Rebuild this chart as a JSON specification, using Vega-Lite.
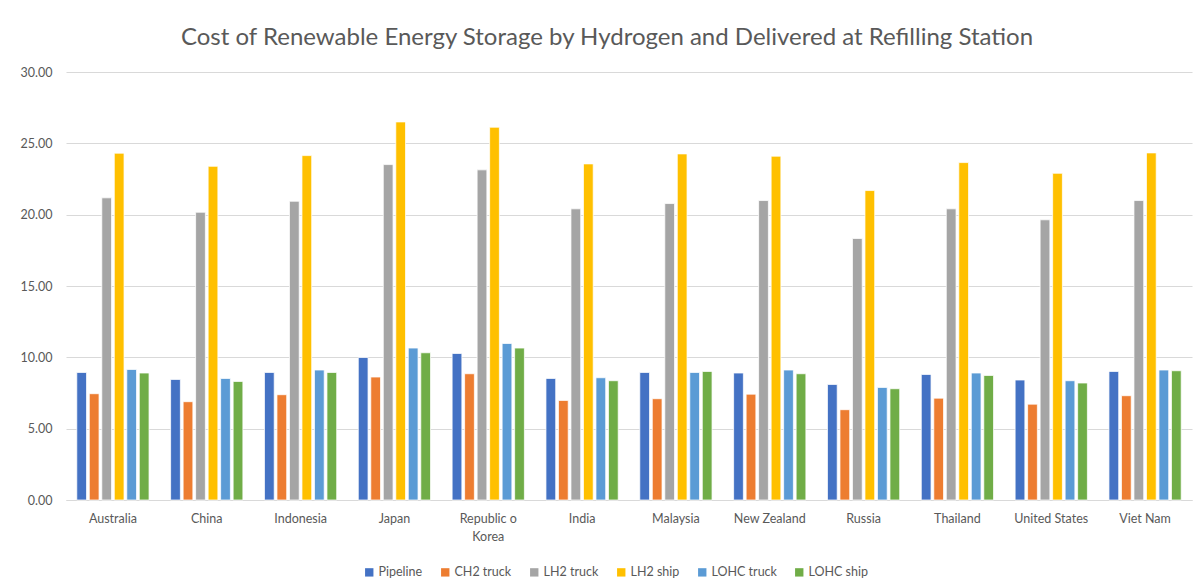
{
  "$schema": "https://vega.github.io/schema/vega-lite/v6.json",
  "width": 1126,
  "height": 428,
  "autosize": "none",
  "padding": {"left": 66, "top": 72, "right": 9, "bottom": 88},
  "background": "white",
  "title": {
    "text": "Cost of Renewable Energy Storage by Hydrogen and Delivered at Refilling Station",
    "font": "Lato",
    "fontSize": 24,
    "fontWeight": "normal",
    "color": "#595959",
    "anchor": "middle",
    "dx": -22,
    "offset": 16
  },
  "data": {
    "values": [
      {"country": "Australia", "mode": "Pipeline", "cost": 8.94},
      {"country": "Australia", "mode": "CH2 truck", "cost": 7.45},
      {"country": "Australia", "mode": "LH2 truck", "cost": 21.18},
      {"country": "Australia", "mode": "LH2 ship", "cost": 24.31},
      {"country": "Australia", "mode": "LOHC truck", "cost": 9.15},
      {"country": "Australia", "mode": "LOHC ship", "cost": 8.9},
      {"country": "China", "mode": "Pipeline", "cost": 8.45},
      {"country": "China", "mode": "CH2 truck", "cost": 6.89},
      {"country": "China", "mode": "LH2 truck", "cost": 20.17},
      {"country": "China", "mode": "LH2 ship", "cost": 23.39},
      {"country": "China", "mode": "LOHC truck", "cost": 8.52},
      {"country": "China", "mode": "LOHC ship", "cost": 8.31},
      {"country": "Indonesia", "mode": "Pipeline", "cost": 8.94},
      {"country": "Indonesia", "mode": "CH2 truck", "cost": 7.38},
      {"country": "Indonesia", "mode": "LH2 truck", "cost": 20.94},
      {"country": "Indonesia", "mode": "LH2 ship", "cost": 24.14},
      {"country": "Indonesia", "mode": "LOHC truck", "cost": 9.11},
      {"country": "Indonesia", "mode": "LOHC ship", "cost": 8.94},
      {"country": "Japan", "mode": "Pipeline", "cost": 9.99},
      {"country": "Japan", "mode": "CH2 truck", "cost": 8.62},
      {"country": "Japan", "mode": "LH2 truck", "cost": 23.51},
      {"country": "Japan", "mode": "LH2 ship", "cost": 26.5},
      {"country": "Japan", "mode": "LOHC truck", "cost": 10.65},
      {"country": "Japan", "mode": "LOHC ship", "cost": 10.32},
      {"country": "Republic o Korea", "mode": "Pipeline", "cost": 10.27},
      {"country": "Republic o Korea", "mode": "CH2 truck", "cost": 8.85},
      {"country": "Republic o Korea", "mode": "LH2 truck", "cost": 23.14},
      {"country": "Republic o Korea", "mode": "LH2 ship", "cost": 26.13},
      {"country": "Republic o Korea", "mode": "LOHC truck", "cost": 10.97},
      {"country": "Republic o Korea", "mode": "LOHC ship", "cost": 10.65},
      {"country": "India", "mode": "Pipeline", "cost": 8.52},
      {"country": "India", "mode": "CH2 truck", "cost": 6.98},
      {"country": "India", "mode": "LH2 truck", "cost": 20.41},
      {"country": "India", "mode": "LH2 ship", "cost": 23.56},
      {"country": "India", "mode": "LOHC truck", "cost": 8.57},
      {"country": "India", "mode": "LOHC ship", "cost": 8.36},
      {"country": "Malaysia", "mode": "Pipeline", "cost": 8.94},
      {"country": "Malaysia", "mode": "CH2 truck", "cost": 7.1},
      {"country": "Malaysia", "mode": "LH2 truck", "cost": 20.78},
      {"country": "Malaysia", "mode": "LH2 ship", "cost": 24.26},
      {"country": "Malaysia", "mode": "LOHC truck", "cost": 8.94},
      {"country": "Malaysia", "mode": "LOHC ship", "cost": 9.01},
      {"country": "New Zealand", "mode": "Pipeline", "cost": 8.9},
      {"country": "New Zealand", "mode": "CH2 truck", "cost": 7.42},
      {"country": "New Zealand", "mode": "LH2 truck", "cost": 20.99},
      {"country": "New Zealand", "mode": "LH2 ship", "cost": 24.1},
      {"country": "New Zealand", "mode": "LOHC truck", "cost": 9.11},
      {"country": "New Zealand", "mode": "LOHC ship", "cost": 8.85},
      {"country": "Russia", "mode": "Pipeline", "cost": 8.1},
      {"country": "Russia", "mode": "CH2 truck", "cost": 6.33},
      {"country": "Russia", "mode": "LH2 truck", "cost": 18.33},
      {"country": "Russia", "mode": "LH2 ship", "cost": 21.69},
      {"country": "Russia", "mode": "LOHC truck", "cost": 7.89},
      {"country": "Russia", "mode": "LOHC ship", "cost": 7.8},
      {"country": "Thailand", "mode": "Pipeline", "cost": 8.8},
      {"country": "Thailand", "mode": "CH2 truck", "cost": 7.14},
      {"country": "Thailand", "mode": "LH2 truck", "cost": 20.41},
      {"country": "Thailand", "mode": "LH2 ship", "cost": 23.65},
      {"country": "Thailand", "mode": "LOHC truck", "cost": 8.9},
      {"country": "Thailand", "mode": "LOHC ship", "cost": 8.73},
      {"country": "United States", "mode": "Pipeline", "cost": 8.41},
      {"country": "United States", "mode": "CH2 truck", "cost": 6.72},
      {"country": "United States", "mode": "LH2 truck", "cost": 19.64},
      {"country": "United States", "mode": "LH2 ship", "cost": 22.9},
      {"country": "United States", "mode": "LOHC truck", "cost": 8.36},
      {"country": "United States", "mode": "LOHC ship", "cost": 8.2},
      {"country": "Viet Nam", "mode": "Pipeline", "cost": 9.01},
      {"country": "Viet Nam", "mode": "CH2 truck", "cost": 7.31},
      {"country": "Viet Nam", "mode": "LH2 truck", "cost": 20.99},
      {"country": "Viet Nam", "mode": "LH2 ship", "cost": 24.33},
      {"country": "Viet Nam", "mode": "LOHC truck", "cost": 9.11},
      {"country": "Viet Nam", "mode": "LOHC ship", "cost": 9.06}
    ]
  },
  "mark": {"type": "bar", "stroke": "white", "strokeWidth": 0.75},
  "encoding": {
    "x": {
      "field": "country",
      "type": "nominal",
      "sort": null,
      "scale": {"paddingInner": 0.23, "paddingOuter": 0.115},
      "axis": {
        "title": null,
        "labelAngle": 0,
        "labelFont": "Lato",
        "labelFontSize": 12.5,
        "labelColor": "#595959",
        "labelPadding": 12,
        "ticks": false,
        "domainColor": "#d9d9d9",
        "domainWidth": 1,
        "labelExpr": "datum.label == 'Republic o Korea' ? ['Republic o', 'Korea'] : datum.label",
        "labelLineHeight": 18
      }
    },
    "xOffset": {
      "field": "mode",
      "type": "nominal",
      "sort": ["Pipeline", "CH2 truck", "LH2 truck", "LH2 ship", "LOHC truck", "LOHC ship"],
      "scale": {"paddingInner": 0.22}
    },
    "y": {
      "field": "cost",
      "type": "quantitative",
      "scale": {"domain": [0, 30], "nice": false},
      "axis": {
        "title": null,
        "values": [0, 5, 10, 15, 20, 25, 30],
        "format": ".2f",
        "labelFont": "Lato",
        "labelFontSize": 12.5,
        "labelColor": "#595959",
        "labelPadding": 14,
        "ticks": false,
        "domain": false,
        "gridColor": "#d9d9d9",
        "gridWidth": 1
      }
    },
    "color": {
      "field": "mode",
      "type": "nominal",
      "sort": ["Pipeline", "CH2 truck", "LH2 truck", "LH2 ship", "LOHC truck", "LOHC ship"],
      "scale": {
        "domain": ["Pipeline", "CH2 truck", "LH2 truck", "LH2 ship", "LOHC truck", "LOHC ship"],
        "range": ["#4472C4", "#ED7D31", "#A5A5A5", "#FFC000", "#5B9BD5", "#70AD47"]
      },
      "legend": {
        "title": null,
        "orient": "none",
        "direction": "horizontal",
        "legendX": 297,
        "legendY": 494,
        "symbolType": "square",
        "symbolSize": 70,
        "symbolStrokeWidth": 0,
        "labelFont": "Lato",
        "labelFontSize": 12.5,
        "labelColor": "#595959",
        "labelOffset": 3,
        "columnPadding": 16
      }
    }
  },
  "config": {
    "view": {"stroke": null}
  }
}
